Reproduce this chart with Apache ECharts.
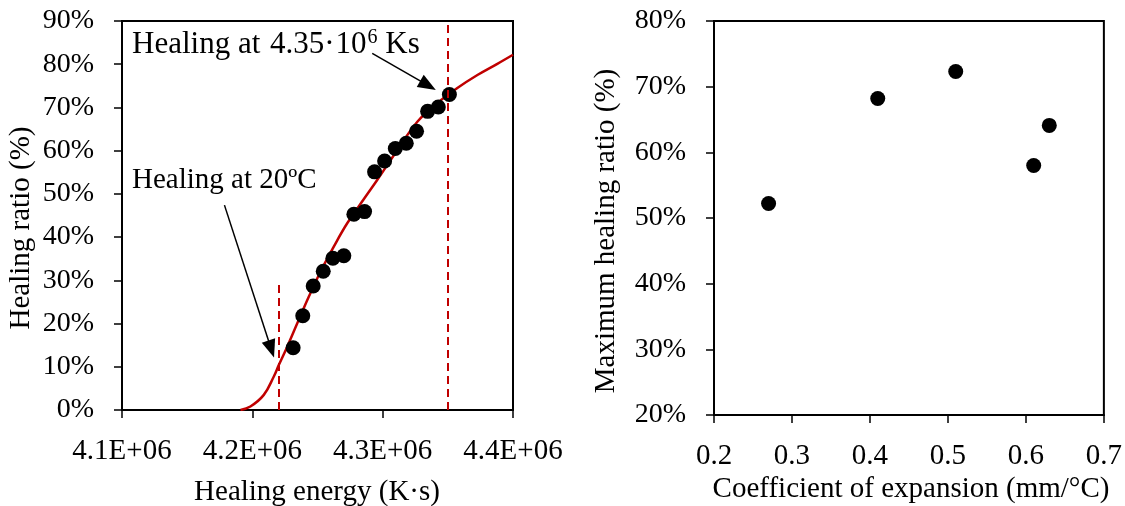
<!DOCTYPE html>
<html><head><meta charset="utf-8">
<script src="https://cdn.jsdelivr.net/npm/echarts@6/dist/echarts.min.js"></script>
<style>html,body{margin:0;padding:0;background:#fff}#c{width:1125px;height:506px}</style>
</head><body><div id="c"></div>
<script>
// Left chart: measured points
const healingEnergy = [4231300,4238700,4246700,4254400,4261800,4270200,4277900,4286100,4293800,4301500,4309700,4318100,4326000,4334500,4342700,4351200];
const healingRatio  = [14.4,21.8,28.7,32.1,35.1,35.7,45.3,45.9,55.1,57.6,60.5,61.7,64.5,69.1,70.1,73.0];
// Left chart: fitted curve
const fitEnergy = [4190900,4198500,4208800,4216400,4220300,4226700,4234400,4243300,4252300,4262500,4272800,4285600,4295800,4311200,4326600,4341900,4357300,4372700,4388000,4400000];
const fitRatio  = [0,0.8,3.5,7.7,10.4,14.6,20.0,26.2,32.0,37.8,43.2,48.8,53.2,60.1,66.7,71.0,74.5,77.5,80.1,82.2];
// Reference (dashed) lines
const refEnergy = [4220000,4350000];
const refTop    = [30,90];
// Arrows
const arrowFrom = [[4292000,82.5],[4178600,47.4]];
const arrowTo   = [[4334800,75.1],[4214500,14.1]];
// Right chart
const expansion = [0.27,0.41,0.51,0.61,0.63];
const maxRatio  = [52.2,68.2,72.3,58.0,64.1];
const xTicksLeft = [4100000,4400000,100000];

const F = '"Liberation Serif","Times New Roman",serif';
const chart = echarts.init(document.getElementById('c'));
const pair = (xs, ys) => xs.map((x,i)=>[x, ys[i]]);

function axis(extra){
  return Object.assign({
    type:'value',
    splitLine:{show:false},
    axisLine:{show:true,onZero:false,lineStyle:{color:'#000',width:2}},
    axisTick:{show:true,length:8,lineStyle:{color:'#000',width:1.5}}
  }, extra);
}

const option = {
  animation:false,
  grid:[
    {left:122,top:21,width:391,height:389,show:true,borderColor:'#000',borderWidth:2,backgroundColor:'transparent'},
    {left:714,top:21,width:391,height:394,show:true,borderColor:'#000',borderWidth:2,backgroundColor:'transparent'}
  ],
  xAxis:[
    axis({gridIndex:0,min:xTicksLeft[0],max:xTicksLeft[1],interval:xTicksLeft[2],
      axisLabel:{margin:27,fontFamily:F,fontSize:29,color:'#000',formatter:v=>(v/1e6).toFixed(1)+'E+06'}}),
    axis({gridIndex:1,min:0.2,max:0.7,interval:0.1,
      axisLabel:{margin:27,fontFamily:F,fontSize:29,color:'#000',formatter:v=>v.toFixed(1)}})
  ],
  yAxis:[
    axis({gridIndex:0,min:0,max:90,interval:10,
      axisLabel:{margin:28,fontFamily:F,fontSize:28,color:'#000',formatter:v=>v+'%'}}),
    axis({gridIndex:1,min:20,max:80,interval:10,
      axisLabel:{margin:28,fontFamily:F,fontSize:28,color:'#000',formatter:v=>v+'%'}})
  ],
  series:[
    {type:'line',xAxisIndex:0,yAxisIndex:0,data:pair(fitEnergy,fitRatio),smooth:0.4,
     symbol:'none',silent:true,lineStyle:{color:'#C00000',width:2.5},z:2,
     markLine:{silent:true,symbol:'none',label:{show:false},
       lineStyle:{type:[8,5],color:'#C00000',width:2},
       data:refEnergy.map((x,i)=>[{coord:[x,0]},{coord:[x,refTop[i]]}])}},
    {type:'scatter',xAxisIndex:0,yAxisIndex:0,data:pair(healingEnergy,healingRatio),
     symbolSize:15,itemStyle:{color:'#000',opacity:1},silent:true,z:3,
     markLine:{silent:true,symbol:['none','triangle'],symbolSize:[14,18],label:{show:false},
       lineStyle:{type:'solid',color:'#000',width:1.5},
       data:arrowFrom.map((p,i)=>[{coord:p},{coord:arrowTo[i]}])}},
    {type:'scatter',xAxisIndex:1,yAxisIndex:1,data:pair(expansion,maxRatio),
     symbolSize:15,itemStyle:{color:'#000',opacity:1},silent:true,z:3}
  ],
  graphic:[
    {type:'text',x:21,y:228,rotation:Math.PI/2,style:{text:'Healing ratio (%)',font:'29px '+F,fill:'#000',align:'center',verticalAlign:'middle'}},
    {type:'text',x:317,y:492,style:{text:'Healing energy (K·s)',font:'29px '+F,fill:'#000',align:'center',verticalAlign:'middle'}},
    {type:'text',x:606,y:231,rotation:Math.PI/2,style:{text:'Maximum healing ratio (%)',font:'29px '+F,fill:'#000',align:'center',verticalAlign:'middle'}},
    {type:'text',x:911,y:489,style:{text:'Coefficient of expansion (mm/°C)',font:'29px '+F,fill:'#000',align:'center',verticalAlign:'middle'}},
    {type:'text',x:132,y:180,style:{text:'Healing at 20ºC',font:'29px '+F,fill:'#000',align:'left',verticalAlign:'middle'}},
    {type:'text',x:132,y:45,style:{text:'{a|Healing at }{b|4.35}{a|·}{c|10}{s|6}{a| Ks}',align:'left',verticalAlign:'middle',
      rich:{a:{fontSize:31,fontFamily:F,fill:'#000',color:'#000',lineHeight:34},
            b:{fontSize:31,fontFamily:F,fill:'#000',color:'#000',lineHeight:34,padding:[0,0,0,2]},
            c:{fontSize:31,fontFamily:F,fill:'#000',color:'#000',lineHeight:34,padding:[0,0,0,1]},
            s:{fontSize:20,fontFamily:F,fill:'#000',color:'#000',verticalAlign:'top',lineHeight:20,padding:[0,0,0,1]}}}}
  ]
};
chart.setOption(option);
</script></body></html>
